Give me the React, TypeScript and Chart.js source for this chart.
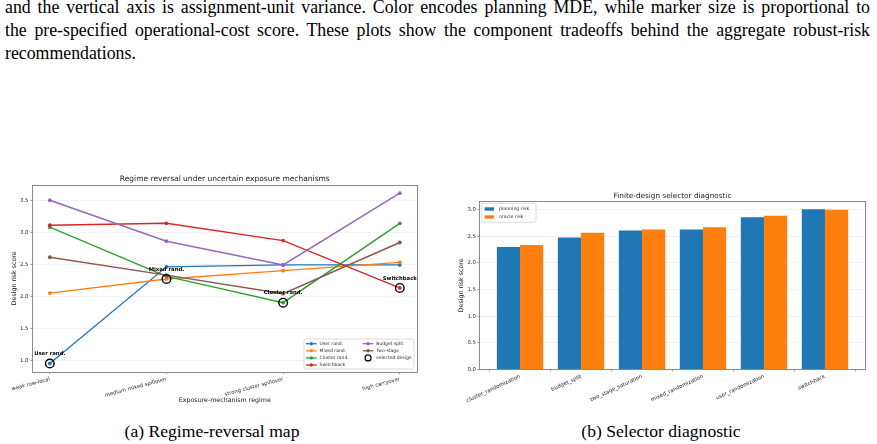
import React, { useEffect, useRef } from "react";
import { Chart, registerables } from "chart.js";

Chart.register(...registerables);

// ---------- (a) Regime-reversal map ----------
const regimes = ["weak row-local", "medium mixed spillover", "strong cluster spillover", "high carryover"];
const userRand = [0.95, 2.46, 2.49, 2.49];
const mixedRand = [2.05, 2.27, 2.4, 2.53];
const clusterRand = [3.08, 2.31, 1.9, 3.14];
const switchbackRisk = [3.11, 3.14, 2.87, 2.13];
const budgetSplit = [3.5, 2.86, 2.49, 3.61];
const twoStage = [2.61, 2.33, 2.04, 2.84];
// design picked as best under each regime
const selectedDesigns = ["User rand.", "Mixed rand.", "Cluster rand.", "Switchback"];
const regimeTicks = [1.0, 1.5, 2.0, 2.5, 3.0, 3.5];

// ---------- (b) Selector diagnostic ----------
const designs = [
  "cluster_randomization",
  "budget_split",
  "two_stage_saturation",
  "mixed_randomization",
  "user_randomization",
  "switchback",
];
const planningRisk = [2.3, 2.48, 2.61, 2.63, 2.86, 3.01];
const oracleRisk = [2.34, 2.57, 2.63, 2.67, 2.89, 3.0];
const selectorTicks = [0, 0.5, 1.0, 1.5, 2.0, 2.5, 3.0];

const FONT = "'DejaVu Sans', Verdana, sans-serif";
const FRAME = "#8a8a8a";
const GRID = "rgba(0,0,0,0.07)";
const TEXT = "#1a1a1a";

type Series = { label: string; values: number[]; color: string };

const regimeSeries: Series[] = [
  { label: "User rand.", values: userRand, color: "#1f77b4" },
  { label: "Mixed rand.", values: mixedRand, color: "#ff7f0e" },
  { label: "Cluster rand.", values: clusterRand, color: "#2ca02c" },
  { label: "Switchback", values: switchbackRisk, color: "#d62728" },
  { label: "Budget split", values: budgetSplit, color: "#9467bd" },
  { label: "Two-stage", values: twoStage, color: "#8c564b" },
];

const selectedScores = selectedDesigns.map(
  (name, i) => regimeSeries.find((s) => s.label === name)!.values[i]
);

type LegendItem = { text: string; color: string; kind: "line" | "ring" | "patch" };
type LegendLayout = {
  box: (ca: any) => { x: number; y: number; w: number; h: number };
  rows: number;
  colX: number[];
  rowY0: number;
  rowStep: number;
  handleW: number;
  textDx: number;
  fontSize: number;
};

function roundRect(ctx: CanvasRenderingContext2D, x: number, y: number, w: number, h: number, r: number) {
  ctx.beginPath();
  ctx.moveTo(x + r, y);
  ctx.lineTo(x + w - r, y);
  ctx.arcTo(x + w, y, x + w, y + r, r);
  ctx.lineTo(x + w, y + h - r);
  ctx.arcTo(x + w, y + h, x + w - r, y + h, r);
  ctx.lineTo(x + r, y + h);
  ctx.arcTo(x, y + h, x, y + h - r, r);
  ctx.lineTo(x, y + r);
  ctx.arcTo(x, y, x + r, y, r);
  ctx.closePath();
}

function drawLegend(ctx: CanvasRenderingContext2D, ca: any, items: LegendItem[], lay: LegendLayout) {
  const b = lay.box(ca);
  ctx.save();
  roundRect(ctx, b.x, b.y, b.w, b.h, 1.5);
  ctx.fillStyle = "rgba(255,255,255,0.85)";
  ctx.fill();
  ctx.strokeStyle = "#d3d3d3";
  ctx.lineWidth = 0.8;
  ctx.stroke();
  ctx.font = `${lay.fontSize}px ${FONT}`;
  ctx.textBaseline = "middle";
  ctx.textAlign = "left";
  items.forEach((it, k) => {
    const col = Math.floor(k / lay.rows);
    const row = k % lay.rows;
    const x0 = b.x + lay.colX[col];
    const y = b.y + lay.rowY0 + row * lay.rowStep;
    const mid = x0 + lay.handleW / 2;
    if (it.kind === "line") {
      ctx.strokeStyle = it.color;
      ctx.lineWidth = 1.3;
      ctx.beginPath();
      ctx.moveTo(x0, y);
      ctx.lineTo(x0 + lay.handleW, y);
      ctx.stroke();
      ctx.fillStyle = it.color;
      ctx.beginPath();
      ctx.arc(mid, y, 1.7, 0, Math.PI * 2);
      ctx.fill();
    } else if (it.kind === "ring") {
      ctx.strokeStyle = it.color;
      ctx.lineWidth = 1.2;
      ctx.beginPath();
      ctx.arc(mid, y, 3, 0, Math.PI * 2);
      ctx.stroke();
    } else {
      ctx.fillStyle = it.color;
      ctx.fillRect(x0, y - 1.7, lay.handleW, 3.4);
    }
    ctx.fillStyle = "#2a2a2a";
    ctx.fillText(it.text, x0 + lay.textDx, y);
  });
  ctx.restore();
}

// plot frame plus a title centred over the plot area
function framePlugin(id: string, title: string, titleSize: number, titleY: number) {
  return {
    id,
    afterDraw(chart: any) {
      const { ctx, chartArea: ca } = chart;
      ctx.save();
      ctx.strokeStyle = FRAME;
      ctx.lineWidth = 1;
      ctx.strokeRect(Math.round(ca.left) + 0.5, Math.round(ca.top) + 0.5, Math.round(ca.right - ca.left), Math.round(ca.bottom - ca.top));
      ctx.font = `${titleSize}px ${FONT}`;
      ctx.fillStyle = TEXT;
      ctx.textAlign = "center";
      ctx.textBaseline = "middle";
      ctx.fillText(title, (ca.left + ca.right) / 2, titleY);
      ctx.restore();
    },
  };
}

// pin the axis box sizes so the plot area lands in a fixed spot
const fixedBox = (size: number) => (scale: any) => {
  if (scale.isHorizontal()) scale.height = size;
  else scale.width = size;
  scale.paddingLeft = 0;
  scale.paddingRight = 0;
  scale.paddingTop = 0;
  scale.paddingBottom = 0;
};

const tickFont = { family: FONT, size: 5.3 };

function regimeConfig(): any {
  const all = regimeSeries.flatMap((s) => s.values);
  const lo = Math.min(...all);
  const hi = Math.max(...all);
  const pad = (hi - lo) * 0.05;
  const n = regimeSeries.length;

  const lineSets = regimeSeries.map((s, i) => ({
    type: "line",
    label: s.label,
    data: s.values.map((y, x) => ({ x, y })),
    borderColor: s.color,
    backgroundColor: s.color,
    borderWidth: 1.4,
    pointRadius: 1.9,
    pointBorderWidth: 0,
    pointBackgroundColor: s.color,
    tension: 0,
    order: n - i + 1,
  }));

  const ringSet = {
    type: "line",
    label: "selected design",
    data: selectedScores.map((y, x) => ({ x, y })),
    showLine: false,
    pointRadius: 4.3,
    pointBorderWidth: 1.4,
    pointBorderColor: "#000",
    pointBackgroundColor: "rgba(0,0,0,0)",
    order: 0,
  };

  const legendItems: LegendItem[] = [
    ...regimeSeries.map((s) => ({ text: s.label, color: s.color, kind: "line" as const })),
    { text: "selected design", color: "#000", kind: "ring" },
  ];

  const annotate = {
    id: "selectedLabels",
    afterDatasetsDraw(chart: any) {
      const { ctx, scales } = chart;
      ctx.save();
      ctx.font = `bold 5.3px ${FONT}`;
      ctx.fillStyle = "#000";
      ctx.textAlign = "center";
      ctx.textBaseline = "middle";
      selectedDesigns.forEach((name, i) => {
        const px = scales.x.getPixelForValue(i);
        const py = scales.y.getPixelForValue(selectedScores[i]);
        ctx.fillText(name, px, py - 9.6);
      });
      ctx.restore();
    },
  };

  const legend = {
    id: "regimeLegend",
    afterDraw(chart: any) {
      drawLegend(chart.ctx, chart.chartArea, legendItems, {
        box: (ca) => ({ x: ca.right - 3.3 - 110, y: ca.bottom - 3 - 30, w: 110, h: 30 }),
        rows: 4,
        colX: [2, 58.7],
        rowY0: 4.7,
        rowStep: 7.1,
        handleW: 10.7,
        textDx: 13.6,
        fontSize: 4.5,
      });
    },
  };

  return {
    type: "line",
    data: { datasets: [...lineSets, ringSet] },
    options: {
      animation: false,
      responsive: false,
      layout: { padding: { left: 0, right: 17.7, top: 14.7, bottom: 0 } },
      plugins: {
        legend: { display: false },
        tooltip: { enabled: false },
        title: { display: false },
      },
      scales: {
        x: {
          type: "linear",
          min: -0.15,
          max: regimes.length - 1 + 0.15,
          afterBuildTicks: (s: any) => {
            s.ticks = regimes.map((_, i) => ({ value: i }));
          },
          afterFit: fixedBox(38),
          border: { display: false },
          grid: { drawOnChartArea: false, tickLength: 2, tickColor: FRAME, tickWidth: 0.8 },
          ticks: {
            autoSkip: false,
            minRotation: 15,
            maxRotation: 15,
            padding: 2,
            color: "#262626",
            font: tickFont,
            callback: (v: number) => regimes[v],
          },
          title: {
            display: true,
            text: "Exposure-mechanism regime",
            color: TEXT,
            font: { family: FONT, size: 6.3 },
            padding: { top: 0, bottom: 6.2 },
          },
        },
        y: {
          type: "linear",
          min: lo - pad,
          max: hi + pad,
          afterBuildTicks: (s: any) => {
            s.ticks = regimeTicks.map((value) => ({ value }));
          },
          afterFit: fixedBox(32.3),
          border: { display: false },
          grid: { color: GRID, lineWidth: 0.8, tickLength: 2, tickColor: FRAME, tickWidth: 0.8 },
          ticks: {
            padding: 2,
            color: "#262626",
            font: tickFont,
            callback: (v: number) => v.toFixed(1),
          },
          title: {
            display: true,
            text: "Design risk score",
            color: TEXT,
            font: { family: FONT, size: 6.3 },
            padding: { top: 10.2, bottom: 0 },
          },
        },
      },
    },
    plugins: [
      annotate,
      framePlugin("regimeFrame", "Regime reversal under uncertain exposure mechanisms", 7.5, 9),
      legend,
    ],
  };
}

function selectorConfig(): any {
  const hi = Math.max(...planningRisk, ...oracleRisk);
  const barW = 0.38;
  const span = designs.length - 1 + 2 * barW;
  const xPad = span * 0.05;

  const sets = [
    { label: "planning risk", values: planningRisk, color: "#1f77b4" },
    { label: "oracle risk", values: oracleRisk, color: "#ff7f0e" },
  ].map((s) => ({
    type: "bar",
    label: s.label,
    data: s.values.map((y, x) => ({ x, y })),
    backgroundColor: s.color,
    borderWidth: 0,
    categoryPercentage: barW * 2,
    barPercentage: 1,
  }));

  const legendItems: LegendItem[] = sets.map((s) => ({
    text: s.label,
    color: s.backgroundColor,
    kind: "patch" as const,
  }));

  const legend = {
    id: "selectorLegend",
    afterDraw(chart: any) {
      drawLegend(chart.ctx, chart.chartArea, legendItems, {
        box: (ca) => ({ x: ca.left + 2.4, y: ca.top + 2, w: 54.3, h: 19 }),
        rows: 2,
        colX: [3],
        rowY0: 5.7,
        rowStep: 8,
        handleW: 9.3,
        textDx: 14.3,
        fontSize: 4.7,
      });
    },
  };

  return {
    type: "bar",
    data: { datasets: sets },
    options: {
      animation: false,
      responsive: false,
      layout: { padding: { left: 0, right: 11.3, top: 21.3, bottom: 0 } },
      plugins: {
        legend: { display: false },
        tooltip: { enabled: false },
        title: { display: false },
      },
      scales: {
        x: {
          type: "linear",
          offset: false,
          min: -barW - xPad,
          max: designs.length - 1 + barW + xPad,
          afterBuildTicks: (s: any) => {
            s.ticks = designs.map((_, i) => ({ value: i }));
          },
          afterFit: fixedBox(40.7),
          border: { display: false },
          grid: { drawOnChartArea: false, tickLength: 2, tickColor: FRAME, tickWidth: 0.8 },
          ticks: {
            autoSkip: false,
            minRotation: 25,
            maxRotation: 25,
            padding: 2,
            color: "#262626",
            font: tickFont,
            callback: (v: number) => designs[v],
          },
        },
        y: {
          type: "linear",
          min: 0,
          max: hi * 1.05,
          afterBuildTicks: (s: any) => {
            s.ticks = selectorTicks.map((value) => ({ value }));
          },
          afterFit: fixedBox(39.3),
          border: { display: false },
          grid: { color: GRID, lineWidth: 0.8, tickLength: 2, tickColor: FRAME, tickWidth: 0.8 },
          ticks: {
            padding: 1.5,
            color: "#262626",
            font: tickFont,
            callback: (v: number) => v.toFixed(1),
          },
          title: {
            display: true,
            text: "Design risk score",
            color: TEXT,
            font: { family: FONT, size: 6.3 },
            padding: { top: 17.9, bottom: 0 },
          },
        },
      },
    },
    plugins: [framePlugin("selectorFrame", "Finite-design selector diagnostic", 7.3, 15.7), legend],
  };
}

const bodyLines = [
  "and the vertical axis is assignment-unit variance. Color encodes planning MDE, while marker size is proportional to",
  "the pre-specified operational-cost score. These plots show the component tradeoffs behind the aggregate robust-risk",
  "recommendations.",
];

const serif = "'Liberation Serif', 'Times New Roman', Times, serif";

export default function App() {
  const leftRef = useRef<HTMLCanvasElement>(null);
  const rightRef = useRef<HTMLCanvasElement>(null);

  useEffect(() => {
    const a = new Chart(leftRef.current!, regimeConfig());
    const b = new Chart(rightRef.current!, selectorConfig());
    return () => {
      a.destroy();
      b.destroy();
    };
  }, []);

  return (
    <div
      style={{
        position: "absolute",
        left: 0,
        top: 0,
        width: 877,
        height: 444,
        overflow: "hidden",
        background: "#fff",
        color: "#000",
      }}
    >
      <div
        style={{
          position: "absolute",
          left: 5,
          top: -4.4,
          width: 865,
          fontFamily: serif,
          fontSize: 17.8,
          lineHeight: "23.35px",
        }}
      >
        {bodyLines.map((t, i) => (
          <div
            key={i}
            style={{
              whiteSpace: "nowrap",
              textAlign: i < bodyLines.length - 1 ? "justify" : "left",
              textAlignLast: i < bodyLines.length - 1 ? "justify" : "left",
            }}
          >
            {t}
          </div>
        ))}
      </div>

      <canvas
        ref={leftRef}
        width={435}
        height={240}
        style={{ position: "absolute", left: 0, top: 170, width: 435, height: 240 }}
      />
      <canvas
        ref={rightRef}
        width={437}
        height={230}
        style={{ position: "absolute", left: 440, top: 180, width: 437, height: 230 }}
      />

      <div
        style={{
          position: "absolute",
          left: 62,
          top: 421,
          width: 300,
          textAlign: "center",
          fontFamily: serif,
          fontSize: 17.6,
          lineHeight: "20px",
        }}
      >
        (a) Regime-reversal map
      </div>
      <div
        style={{
          position: "absolute",
          left: 511,
          top: 421,
          width: 300,
          textAlign: "center",
          fontFamily: serif,
          fontSize: 17.6,
          lineHeight: "20px",
        }}
      >
        (b) Selector diagnostic
      </div>
    </div>
  );
}
